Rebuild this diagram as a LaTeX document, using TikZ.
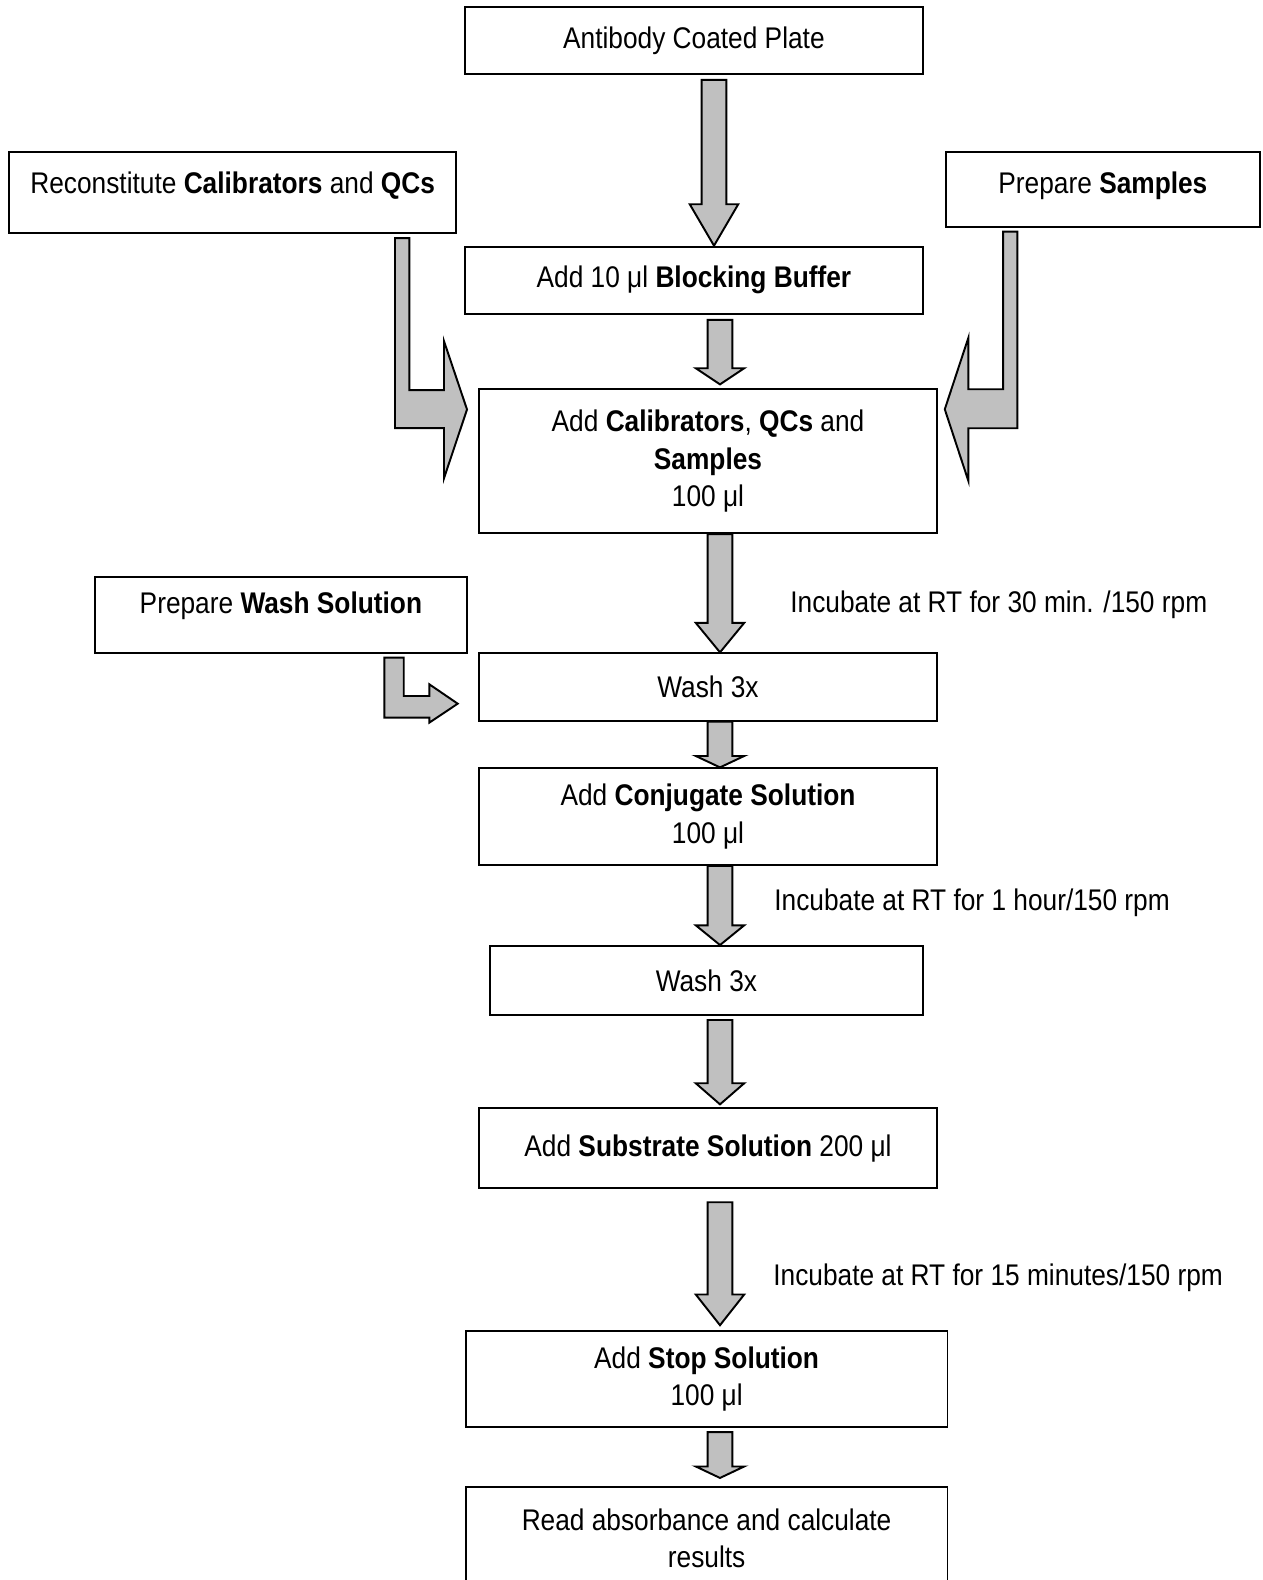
\documentclass[tikz,border=0pt]{standalone}
\usepackage{fontspec}
\setmainfont{Liberation Sans}[FakeStretch=0.88]
\usepackage{tikz}
\usetikzlibrary{calc}

\definecolor{arrowgray}{RGB}{192,192,192}

% fleche bloc verticale, du point #1 a la pointe #2
\newcommand{\blockdown}[2]{%
  \draw[blockarrow] let \p1=#1, \p2=#2, \n1={0.25*(\y1-\y2)} in
    ({\x1-7pt},\y1) -- ({\x1+7pt},\y1) -- ({\x1+7pt},{\y2+\n1}) -- ({\x1+13.8pt},{\y2+\n1})
    -- (\x2,\y2) -- ({\x1-13.8pt},{\y2+\n1}) -- ({\x1-7pt},{\y2+\n1}) -- cycle;}

\begin{document}
\begin{tikzpicture}[x=0.02cm,y=-0.02cm,
  font=\fontsize{17}{21.3}\selectfont,
  box/.style 2 args={draw,line width=1.1pt,align=center,inner sep=0pt,
    minimum width=#1*0.02cm,minimum height=#2*0.02cm},
  blockarrow/.style={draw,line width=1.1pt,fill=arrowgray,line join=miter},
  note/.style={anchor=west,inner sep=0pt}]
\useasboundingbox (0,0) rectangle (1262,1580);
\clip (0,0) rectangle (1262,1580);

	%colonne des fleches
	\coordinate (C1) at (714,0);
	\coordinate (C2) at (720,0);

	%boites
	\node[box={457.7}{67.3}] (Plate) at (693.9,40.3) {Antibody Coated Plate};
	\node[box={446.7}{81},text depth=10.4pt] (Recon) at (232.7,192.2) {Reconstitute \textbf{Calibrators} and \textbf{QCs}};
	\node[box={314.3}{75.6},text depth=7.6pt] (Samples) at (1102.9,189.5) {Prepare \textbf{Samples}};
	\node[box={457.7}{67.3}] (Block) at (693.9,280.3) {Add 10 μl \textbf{Blocking Buffer}};
	\node[box={457.4}{144}] (Calib) at (708,461.3) {Add \textbf{Calibrators}, \textbf{QCs} and\\ \textbf{Samples}\\ 100 μl};
	\node[box={371.7}{76},text depth=13.4pt] (WashPrep) at (280.9,614.7) {Prepare \textbf{Wash Solution}};
	\node[box={457.4}{67.4}] (WashA) at (708,687) {Wash 3x};
	\node[box={457.4}{96.7}] (Conj) at (708,816.7) {Add \textbf{Conjugate Solution}\\ 100 μl};
	\node[box={432.7}{69}] (WashB) at (706.4,980.5) {Wash 3x};
	\node[box={457.4}{80}] (Subst) at (708,1148.3) {Add \textbf{Substrate Solution} 200 μl};
	\node[box={481.8}{96.7}] (Stop) at (706.6,1379) {Add \textbf{Stop Solution}\\ 100 μl};
	\node[box={481.8}{103}] (Read) at (706.6,1538.4) {Read absorbance and calculate\\ results};

	%incubations
	\node[note] (IncA) at (790,605) {Incubate at RT for 30 min. /150 rpm};
	\node[note] (IncB) at (774,903) {Incubate at RT for 1 hour/150 rpm};
	\node[note] (IncC) at (773,1278) {Incubate at RT for 15 minutes/150 rpm};

	%fleches verticales
	\blockdown{($(Plate.south -| C1)+(0,5)$)}{(Block.north -| C1)}
	\blockdown{($(Block.south -| C2)+(0,5)$)}{($(Calib.north -| C2)+(0,-4)$)}
	\blockdown{(Calib.south -| C2)}{(WashA.north -| C2)}
	\blockdown{(WashA.south -| C2)}{(Conj.north -| C2)}
	\blockdown{(Conj.south -| C2)}{(WashB.north -| C2)}
	\blockdown{($(WashB.south -| C2)+(0,4)$)}{($(Subst.north -| C2)+(0,-3)$)}
	\blockdown{($(Subst.south -| C2)+(0,13)$)}{($(Stop.north -| C2)+(0,-4.5)$)}
	\blockdown{($(Stop.south -| C2)+(0,3.7)$)}{($(Read.north -| C2)+(0,-8)$)}

	%fleches coudees
	\draw[blockarrow] ($(Recon.south east)+(-62,4.5)$) -- ++(14.3,0) -- ++(0,152) -- ++(34.7,0)
		-- ++(0,-49) -- ++(23,68.3) -- ++(-23,68.7) -- ++(0,-50) -- ++(-49,0) -- cycle;
	\draw[blockarrow] ($(Samples.south west)+(58.3,3.4)$) -- ++(14.3,0) -- ++(0,196.6) -- ++(-49,0)
		-- ++(0,52.7) -- ++(-23.6,-71.7) -- ++(23.6,-71.6) -- ++(0,51.6) -- ++(34.7,0) -- cycle;
	\draw[blockarrow] ($(WashPrep.south east)+(-83.4,4)$) -- ++(19.4,0) -- ++(0,38.3) -- ++(25.6,0)
		-- ++(0,-11.7) -- ++(28.4,19.4) -- ++(-28.4,19) -- ++(0,-5) -- ++(-45,0) -- cycle;

\end{tikzpicture}
\end{document}
